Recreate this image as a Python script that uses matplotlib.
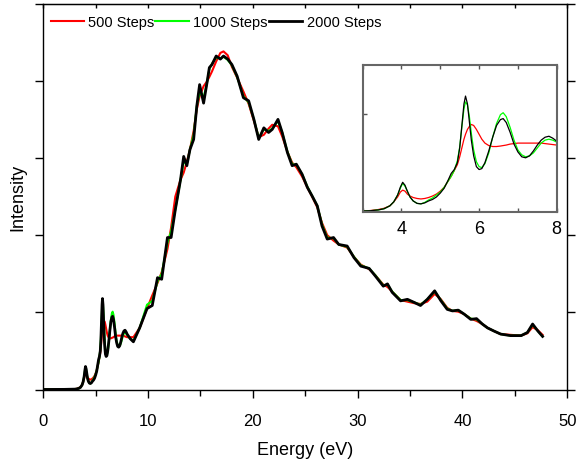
import matplotlib
matplotlib.use('Agg')
import matplotlib.pyplot as plt
from matplotlib.ticker import MultipleLocator, FixedLocator

plt.rcParams['font.family'] = ['Liberation Sans', 'DejaVu Sans']

# energy grid (eV), denser where the inset zooms in
energy = [0, 1, 2, 2.8,
          3.0, 3.2, 3.4, 3.55, 3.7, 3.8, 3.9, 3.97, 4.03, 4.09,
          4.15, 4.22, 4.3, 4.4, 4.5, 4.6, 4.7, 4.8, 4.9, 5.0,
          5.1, 5.2, 5.28, 5.36, 5.44, 5.5, 5.56, 5.61, 5.65, 5.7,
          5.75, 5.8, 5.86, 5.93, 6.0, 6.07, 6.15, 6.25, 6.35, 6.45,
          6.55, 6.62, 6.7, 6.8, 6.9, 7.0, 7.1, 7.2, 7.3, 7.4,
          7.5, 7.6, 7.7, 7.8, 7.9, 8.0,
          8.3, 8.6, 9.2, 9.9, 10.4, 10.9, 11.3, 11.85,
          12.2, 12.6, 13.1, 13.4, 13.7, 14.0, 14.35, 14.65, 14.92, 15.3,
          15.62, 15.85, 16.1, 16.5, 16.9, 17.2, 17.6, 18.0, 18.5, 19.1,
          19.6, 20.1, 20.56, 21.05, 21.5, 21.85, 22.4, 22.8, 23.3, 23.75,
          24.15, 24.7, 25.2, 25.65, 26.15, 26.6, 27.1, 27.7, 28.2, 29.0,
          29.65, 30.3, 31.1, 31.7, 32.45, 32.85, 33.3, 34.1, 34.75, 35.4,
          36.0, 36.65, 37.35, 37.95, 38.55, 39.05, 39.6, 40.15, 40.8, 41.35,
          41.9, 42.4, 43.0, 43.65, 44.6, 45.6, 46.2, 46.7, 47.2, 47.65]

steps_500 = [0.003, 0.003, 0.004, 0.006,
             0.007, 0.012, 0.022, 0.035, 0.06, 0.10, 0.15, 0.20, 0.22, 0.21,
             0.18, 0.16, 0.145, 0.135, 0.13, 0.135, 0.145, 0.16, 0.18, 0.21,
             0.25, 0.31, 0.36, 0.42, 0.48, 0.56, 0.66, 0.74, 0.79, 0.84,
             0.87, 0.89, 0.88, 0.84, 0.79, 0.74, 0.70, 0.675, 0.665, 0.665,
             0.67, 0.675, 0.68, 0.69, 0.695, 0.70, 0.70, 0.70, 0.70, 0.70,
             0.70, 0.70, 0.695, 0.69, 0.685, 0.68,
             0.68, 0.68, 0.80, 1.05, 1.22, 1.38, 1.52, 1.82,
             2.10, 2.50, 2.72, 2.81, 2.95, 3.11, 3.35, 3.63, 3.80, 3.93,
             3.99, 4.05, 4.12, 4.25, 4.36, 4.38, 4.33, 4.18, 4.04, 3.86,
             3.70, 3.48, 3.27, 3.30, 3.38, 3.43, 3.41, 3.28, 3.08, 2.94,
             2.88, 2.76, 2.62, 2.50, 2.36, 2.16, 2.00, 1.93, 1.88, 1.84,
             1.72, 1.62, 1.56, 1.48, 1.36, 1.33, 1.27, 1.16, 1.14, 1.12,
             1.11, 1.14, 1.24, 1.17, 1.06, 1.02, 1.01, 0.98, 0.92, 0.89,
             0.85, 0.80, 0.76, 0.72, 0.71, 0.70, 0.73, 0.81, 0.77, 0.71]

steps_1000 = [0.003, 0.003, 0.004, 0.006,
              0.007, 0.010, 0.018, 0.03, 0.06, 0.10, 0.17, 0.24, 0.29, 0.26,
              0.21, 0.15, 0.11, 0.085, 0.08, 0.095, 0.12, 0.14, 0.17, 0.20,
              0.25, 0.31, 0.36, 0.42, 0.52, 0.66, 0.88, 1.05, 1.12, 1.09,
              0.97, 0.80, 0.63, 0.51, 0.46, 0.45, 0.49, 0.60, 0.76, 0.90,
              0.99, 1.01, 0.97, 0.86, 0.73, 0.63, 0.58, 0.56, 0.57, 0.60,
              0.65, 0.70, 0.73, 0.74, 0.73, 0.71,
              0.66, 0.63, 0.80, 1.10, 1.15, 1.40, 1.50, 1.90,
              2.05, 2.33, 2.72, 2.95, 2.92, 3.11, 3.30, 3.67, 3.85, 3.78,
              3.97, 4.15, 4.22, 4.30, 4.29, 4.31, 4.27, 4.20, 4.05, 3.80,
              3.72, 3.50, 3.26, 3.37, 3.35, 3.38, 3.48, 3.33, 3.08, 2.92,
              2.91, 2.79, 2.63, 2.51, 2.38, 2.14, 1.97, 1.96, 1.88, 1.85,
              1.72, 1.61, 1.57, 1.48, 1.35, 1.36, 1.27, 1.16, 1.16, 1.13,
              1.10, 1.17, 1.27, 1.16, 1.05, 1.02, 1.03, 0.98, 0.92, 0.91,
              0.85, 0.80, 0.76, 0.72, 0.70, 0.70, 0.74, 0.84, 0.76, 0.69]

steps_2000 = [0.003, 0.003, 0.004, 0.006,
              0.007, 0.010, 0.018, 0.03, 0.06, 0.10, 0.17, 0.25, 0.30, 0.27,
              0.21, 0.15, 0.11, 0.085, 0.08, 0.09, 0.11, 0.125, 0.15, 0.19,
              0.24, 0.32, 0.39, 0.43, 0.50, 0.65, 0.90, 1.10, 1.18, 1.10,
              0.92, 0.73, 0.57, 0.46, 0.43, 0.44, 0.50, 0.62, 0.76, 0.88,
              0.94, 0.95, 0.91, 0.81, 0.69, 0.61, 0.56, 0.55, 0.57, 0.62,
              0.68, 0.73, 0.76, 0.77, 0.75, 0.72,
              0.66, 0.62, 0.80, 1.05, 1.09, 1.45, 1.43, 1.97,
              1.97, 2.33, 2.72, 3.02, 2.90, 3.11, 3.24, 3.67, 3.95, 3.71,
              3.97, 4.17, 4.21, 4.32, 4.28, 4.32, 4.28, 4.21, 4.06, 3.78,
              3.74, 3.50, 3.24, 3.39, 3.33, 3.37, 3.50, 3.33, 3.07, 2.90,
              2.92, 2.79, 2.62, 2.51, 2.38, 2.12, 1.95, 1.97, 1.88, 1.86,
              1.71, 1.60, 1.57, 1.47, 1.34, 1.37, 1.26, 1.15, 1.17, 1.13,
              1.09, 1.17, 1.28, 1.15, 1.04, 1.02, 1.03, 0.98, 0.91, 0.92,
              0.85, 0.80, 0.76, 0.72, 0.70, 0.70, 0.74, 0.85, 0.76, 0.69]

labels = ['500 Steps', '1000 Steps', '2000 Steps']
colors = ['#ff0000', '#00ff00', '#000000']

fig = plt.figure(figsize=(5.77, 4.64), dpi=100)
ax = fig.add_axes([0.0750, 0.158, 0.908, 0.8323])

ax.plot(energy, steps_500, color=colors[0], lw=1.5, label=labels[0])
ax.plot(energy, steps_1000, color=colors[1], lw=1.5, label=labels[1])
ax.plot(energy, steps_2000, color=colors[2], lw=2.0, label=labels[2])

ax.set_xlim(0, 50)
ax.set_ylim(0, 5)
ax.xaxis.set_major_locator(MultipleLocator(10))
ax.xaxis.set_minor_locator(MultipleLocator(5))
ax.yaxis.set_major_locator(MultipleLocator(1))
ax.tick_params(which='both', direction='out', top=False, right=True,
               labelleft=False, labelsize=12, pad=11, width=1)
ax.tick_params(which='major', length=6)
ax.tick_params(which='minor', length=4.5)
for s in ax.spines.values():
    s.set_linewidth(1.0)

top = ax.secondary_xaxis('top')
top.xaxis.set_major_locator(MultipleLocator(10))
top.xaxis.set_minor_locator(MultipleLocator(5))
top.tick_params(which='both', direction='in', labeltop=False, length=3, width=1)

ax.set_xlabel('Energy (eV)', fontsize=13, labelpad=9)
ax.set_ylabel('Intensity', fontsize=13, labelpad=6)

ax.legend(loc='center left', bbox_to_anchor=(0.0, 0.951), ncol=3,
          frameon=False, fontsize=10.5, borderpad=0, handlelength=2.3,
          handletextpad=0.3, columnspacing=0.05)

# inset: zoom on the low energy part
ins = fig.add_axes([0.6286, 0.5416, 0.3362, 0.3168])
ins.plot(energy, steps_500, color=colors[0], lw=0.9)
ins.plot(energy, steps_1000, color=colors[1], lw=0.9)
ins.plot(energy, steps_2000, color=colors[2], lw=0.9)
ins.set_xlim(3, 8)
ins.set_ylim(0, 1.5)
ins.xaxis.set_major_locator(FixedLocator([4, 6, 8]))
ins.xaxis.set_minor_locator(FixedLocator([3, 5, 7]))
ins.yaxis.set_major_locator(FixedLocator([1.0]))
ins.tick_params(which='both', direction='in', top=True, length=3, width=1,
                color='#555555', labelleft=False, labelsize=13, pad=6)
for s in ins.spines.values():
    s.set_color('#666666')
    s.set_linewidth(1.5)

fig.savefig('out.png', dpi=100)
